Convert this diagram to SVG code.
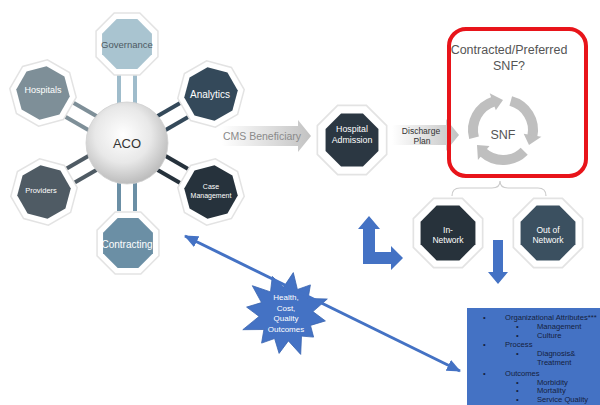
<svg xmlns="http://www.w3.org/2000/svg" xmlns:xlink="http://www.w3.org/1999/xlink" width="600" height="405" viewBox="0 0 600 405">
<defs>
<style>
text{font-family:"Liberation Sans",Arial,sans-serif;text-anchor:middle}
.wt{fill:#ffffff}
.out{fill:#ffffff;stroke:#e3e3e3;stroke-width:1.5}
.bar{stroke-width:4;fill:none}
.box{font-size:7.6px;fill:#14213d;text-anchor:start}
.blue{fill:#4472c4}
</style>
<polygon id="octIn" points="24.94,10.33 10.33,24.94 -10.33,24.94 -24.94,10.33 -24.94,-10.33 -10.33,-24.94 10.33,-24.94 24.94,-10.33"/>
<polygon id="octOut" points="30.95,12.82 12.82,30.95 -12.82,30.95 -30.95,12.82 -30.95,-12.82 -12.82,-30.95 12.82,-30.95 30.95,-12.82"/>
<radialGradient id="sphere" cx="0.45" cy="0.4" r="0.62">
<stop offset="0" stop-color="#ffffff"/>
<stop offset="0.55" stop-color="#e8e8e8"/>
<stop offset="1" stop-color="#b9b9b9"/>
</radialGradient>
<linearGradient id="grayArrow" x1="0" y1="0" x2="1" y2="0">
<stop offset="0" stop-color="#ffffff"/>
<stop offset="1" stop-color="#c2c2c2"/>
</linearGradient>
<marker id="bhead" markerUnits="userSpaceOnUse" markerWidth="14" markerHeight="12" refX="13" refY="6" orient="auto-start-reverse">
<path d="M0,0 L14,6 L0,12 z" fill="#4472c4"/>
</marker>
<g id="cycArc">
<path d="M509.76 106.02 A30 30 0 0 1 531.34 141.24" fill="none" stroke="#bfbfbf" stroke-width="10"/>
<polygon points="522.68,138.65 540.41,141.77 527.98,150" fill="#bfbfbf"/>
</g>
</defs>

<rect width="600" height="405" fill="#ffffff"/>

<g id="starburst">
<polygon class="blue" stroke="#3a64b0" stroke-width="0.8" points="293.3,272.6 297.4,289.5 310.4,284.9 308.1,298.5 327.3,299 312.9,311.6 325.4,320.9 310.5,325.4 313.6,337.1 301.5,336.1 300.7,354.4 288.4,340.9 279.1,353.4 274.6,338.5 261.6,343.1 263.9,329.5 242.8,329.7 259.1,316.4 246.6,307.1 261.5,302.6 252.3,285.7 270.5,291.9 272.3,276.4 283.6,287.1"/>
<text class="wt" x="286" y="300" font-size="8">Health,</text>
<text class="wt" x="286" y="311" font-size="8">Cost,</text>
<text class="wt" x="286" y="321" font-size="8">Quality</text>
<text class="wt" x="286" y="332" font-size="8">Outcomes</text>
</g>

<g id="connectors">
<g transform="rotate(0,127,143)"><line class="bar" x1="119" y1="75" x2="119" y2="104" stroke="#9fbccb"/><line class="bar" x1="135" y1="75" x2="135" y2="104" stroke="#9fbccb"/></g>
<g transform="rotate(60,127,143)"><line class="bar" x1="119" y1="75" x2="119" y2="104" stroke="#34495a"/><line class="bar" x1="135" y1="75" x2="135" y2="104" stroke="#34495a"/></g>
<g transform="rotate(120,127,143)"><line class="bar" x1="119" y1="75" x2="119" y2="104" stroke="#26323c"/><line class="bar" x1="135" y1="75" x2="135" y2="104" stroke="#26323c"/></g>
<g transform="rotate(180,127,143)"><line class="bar" x1="119" y1="75" x2="119" y2="104" stroke="#6b8fa5"/><line class="bar" x1="135" y1="75" x2="135" y2="104" stroke="#6b8fa5"/></g>
<g transform="rotate(240,127,143)"><line class="bar" x1="119" y1="75" x2="119" y2="104" stroke="#4f5b64"/><line class="bar" x1="135" y1="75" x2="135" y2="104" stroke="#4f5b64"/></g>
<g transform="rotate(300,127,143)"><line class="bar" x1="119" y1="75" x2="119" y2="104" stroke="#7e8f98"/><line class="bar" x1="135" y1="75" x2="135" y2="104" stroke="#7e8f98"/></g>

<g id="cms-arrow">
<polygon points="222,126 298,126 298,120 311,136 298,152 298,146 222,146" fill="url(#grayArrow)"/>
<text x="262" y="140" font-size="10.5" fill="#8a8a8a">CMS Beneficiary</text>
</g>
<g id="discharge-arrow">
<polygon points="392,125 446,125 446,119 459,135 446,151 446,145 392,145" fill="url(#grayArrow)"/>
<text x="421" y="134" font-size="8.5" fill="#333333">Discharge</text>
<text x="422" y="144" font-size="8.5" fill="#333333">Plan</text>
</g>
<path d="M452 196 Q452 188 460 188 L492 188 Q500 188 500 181 Q500 188 508 188 L538 188 Q546 188 546 196" fill="none" stroke="#cccccc" stroke-width="1.2"/>
<polygon class="blue" points="369,216 380,229 375,229 375,252 391,252 391,246 403,258 391,270 391,264 363,264 363,229 358,229"/>
<polygon class="blue" points="493,240 503,240 503,272 508,272 498,284 488,272 493,272"/>
<line x1="185" y1="236" x2="460" y2="371" stroke="#4472c4" stroke-width="3" marker-start="url(#bhead)" marker-end="url(#bhead)"/>
</g>

<g id="aco">
<circle cx="127" cy="143" r="41" fill="url(#sphere)" stroke="#d0d0d0" stroke-width="0.8"/>
<text x="127" y="148" font-size="13" fill="#333333">ACO</text>
</g>

<g id="governance">
<use href="#octOut" class="out" transform="translate(127,44)"/>
<use href="#octIn" fill="#a9c4d0" transform="translate(127,44)"/>
<text x="127" y="48" font-size="9.5" fill="#4d5a63">Governance</text>
</g>
<g id="analytics">
<use href="#octOut" class="out" transform="translate(211,94) rotate(15)"/>
<use href="#octIn" fill="#34495a" transform="translate(211,94) rotate(15)"/>
<text class="wt" x="210" y="98" font-size="10">Analytics</text>
</g>
<g id="case-management">
<use href="#octOut" class="out" transform="translate(211,192) rotate(30)"/>
<use href="#octIn" fill="#26323c" transform="translate(211,192) rotate(30)"/>
<text class="wt" x="211" y="189" font-size="7">Case</text>
<text class="wt" x="211" y="198" font-size="7">Management</text>
</g>
<g id="contracting">
<use href="#octOut" class="out" transform="translate(128,243)"/>
<use href="#octIn" fill="#6b8fa5" transform="translate(128,243)"/>
<text class="wt" x="127" y="248" font-size="10">Contracting</text>
</g>
<g id="providers">
<use href="#octOut" class="out" transform="translate(44,192) rotate(15)"/>
<use href="#octIn" fill="#4f5b64" transform="translate(44,192) rotate(15)"/>
<text class="wt" x="41" y="193" font-size="7.5">Providers</text>
</g>
<g id="hospitals">
<use href="#octOut" class="out" transform="translate(43,93) rotate(30)"/>
<use href="#octIn" fill="#7e8f98" transform="translate(43,93) rotate(30)"/>
<text class="wt" x="43" y="93" font-size="9">Hospitals</text>
</g>

<g id="hospital-admission">
<use href="#octOut" class="out" transform="translate(352,140) scale(1.12)"/>
<use href="#octIn" fill="#2b3742" transform="translate(352,140) scale(1.06)"/>
<text class="wt" x="352" y="132" font-size="8.8">Hospital</text>
<text class="wt" x="352" y="143" font-size="8.8">Admission</text>
</g>

<g id="snf-box">
<rect x="449" y="29" width="137" height="147" rx="17" fill="none" stroke="#e8141a" stroke-width="4"/>
<text x="509" y="54" font-size="12.5" fill="#555555">Contracted/Preferred</text>
<text x="509" y="70" font-size="12.5" fill="#555555">SNF?</text>
<g id="snf-cycle" transform="translate(1,-5)">
<use href="#cycArc"/>
<use href="#cycArc" transform="rotate(120,502,135)"/>
<use href="#cycArc" transform="rotate(240,502,135)"/>
</g>
<text x="503" y="139" font-size="12.5" fill="#555555">SNF</text>
</g>

<g id="in-network">
<use href="#octOut" class="out" transform="translate(448,233) scale(1.12)"/>
<use href="#octIn" fill="#27323b" transform="translate(448,233) scale(1.1)"/>
<text class="wt" x="448" y="233" font-size="8.5">In-</text>
<text class="wt" x="448" y="243" font-size="8.5">Network</text>
</g>
<g id="out-of-network">
<use href="#octOut" class="out" transform="translate(548,233) scale(1.12)"/>
<use href="#octIn" fill="#3b5060" transform="translate(548,233) scale(1.1)"/>
<text class="wt" x="548" y="233" font-size="8.5">Out of</text>
<text class="wt" x="548" y="243" font-size="8.5">Network</text>
</g>

<g id="attributes-box">
<rect x="467" y="308" width="133" height="97" class="blue"/>
<text class="box" x="483" y="320">•</text><text class="box" x="505" y="320">Organizational Attributes***</text>
<text class="box" x="516" y="329">•</text><text class="box" x="537" y="329">Management</text>
<text class="box" x="516" y="338">•</text><text class="box" x="537" y="338">Culture</text>
<text class="box" x="483" y="347">•</text><text class="box" x="505" y="347">Process</text>
<text class="box" x="516" y="356">•</text><text class="box" x="537" y="356">Diagnosis&amp;</text>
<text class="box" x="537" y="365">Treatment</text>
<text class="box" x="483" y="376">•</text><text class="box" x="505" y="376">Outcomes</text>
<text class="box" x="516" y="385">•</text><text class="box" x="537" y="385">Morbidity</text>
<text class="box" x="516" y="393">•</text><text class="box" x="537" y="393">Mortality</text>
<text class="box" x="516" y="402">•</text><text class="box" x="537" y="402">Service Quality</text>
</g>
</svg>
